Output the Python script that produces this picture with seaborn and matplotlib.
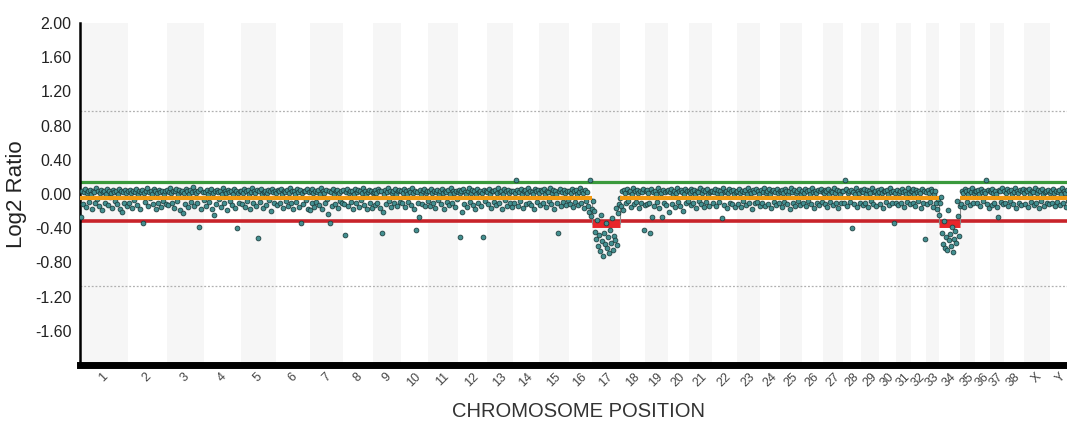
import numpy as np
import pandas as pd
import matplotlib
matplotlib.use('Agg')
import matplotlib.pyplot as plt
import seaborn as sns

# chromosome names and their drawn widths
chrom_names = [str(i) for i in range(1, 39)] + ['X', 'Y']
chrom_len = [47.5, 39, 37.5, 36.5, 35, 34.5, 32.5, 30.5, 27.5, 27.5,
             30, 28.5, 26, 26, 30, 23.5, 28, 25, 22.5, 21.5,
             22.5, 25, 23.5, 20, 21.5, 21.5, 19.5, 18.5, 17.5, 17.5,
             15, 14.5, 13.5, 21, 15, 15, 13.5, 20, 26.5, 20]

# probe log2 ratios per chromosome, in hundredths
chr1 = [-27, 4, -12, 2, 6, -15, 1, 3, -9, 5, 0, -17, 4, 2, -11, 7, -6, 3, -14, 1, 5, -19, 2, 4,
        -10, 0, 6, -13, 3, -3, 1, -16, 5, 2, -8, 4, -12, 0, 6, -18, 3, -21, 2, -10, 5, 1, -14]
chr2 = [3, -11, 5, 1, -16, 4, -7, 2, 6, -13, 0, 4, -18, 2, 5, -34, 1, -9, 3, 7, -14, 2, -5, 4,
        0, -12, 6, 3, -17, 1, -10, 5, 2, -15, 4, -8, 0, 3, -12]
chr3 = [5, -13, 2, 7, 1, -10, 4, -16, 3, 6, -8, 0, 5, -19, 2, 4, -22, 1, -12, 6, 3, -15, 0, 5,
        -9, 2, 8, -14, 4, 1, -11, 3, -38, 6, -17, 2, -7]
chr4 = [2, -14, 5, 0, -9, 4, 6, -17, 1, -24, 3, -12, 5, 2, -6, 4, -15, 0, 7, -11, 3, 1, -19, 5,
        2, -8, 4, -13, 0, 6, -16, 3, -40, 1, -10, 4]
chr5 = [4, -12, 1, 6, -15, 3, -8, 5, 0, -18, 2, 7, -11, 4, 1, -14, 5, -51, 3, -9, 6, 0, -16, 2,
        4, -13, 1, 5, -7, 3, -20, 6, 2, -10, 4]
chr6 = [1, -13, 5, 3, -10, 6, 0, -16, 4, 2, -8, 5, -14, 1, 7, -11, 3, -18, 4, 0, -9, 6, 2, -15,
        5, -34, 1, -12, 4, 3, -7, 6, -17, 2, -19]
chr7 = [3, -11, 6, 1, -15, 4, -9, 2, 5, -13, 0, 7, -18, 3, 1, -10, 5, -6, -23, 4, -34, 2, -14, 6,
        0, -12, 3, 5, -16, 1, -8, 4, -11]
chr8 = [5, -12, -48, 2, 6, -14, 1, 4, -9, 3, -17, 0, 6, -11, 2, 5, -15, 3, -7, 1, 7, -13, 4, 0,
        -18, 2, 5, -10, 3, -16, 1]
chr9 = [2, -13, 5, 1, -10, 6, 3, -16, 4, -45, -21, 0, 5, -12, 2, 7, -8, 3, -15, 1, 4, -11, 6, 0,
        -14, 3, 5, -9]
chr10 = [4, -11, 1, 6, -15, 3, 0, -9, 5, 2, -13, 7, 1, -17, 4, -42, 2, -10, -27, 5, 0, -12, 3, 6,
         -14, 1, 4, -8]
chr11 = [3, -14, 6, 1, -10, 4, -16, 2, 5, -7, 0, 3, -12, 6, 1, -18, 4, 2, -9, 5, -13, 0, 7, -11,
         3, 1, -15, 4, -6, 2]
chr12 = [5, -50, 1, 3, -21, 6, -12, 2, 0, -15, 4, 7, -9, 1, 5, -13, 3, -17, 0, 6, -10, 2, 4, -14,
         1, -50, 5, -8, 3]
chr13 = [2, -12, 6, 0, -16, 4, 3, -9, 5, -13, 1, 7, -11, 2, 4, -18, 0, 6, -7, 3, -14, 5, 1, -10,
         4, -15]
chr14 = [4, -11, 1, 17, 5, -14, 2, -8, 6, 0, -16, 3, 5, -12, 1, 7, -10, 4, -13, 2, 0, -17, 6, 3,
         -9, 5]
chr15 = [1, -13, 5, 3, -10, 6, 0, -15, 4, 2, -8, 7, -12, 1, 5, -17, 3, 0, -11, -46, 4, 6, -14, 2,
         -9, 5, 1, -13, 3, -7]
chr16 = [4, -12, 1, 6, -15, 3, -9, 5, 0, -13, 2, 7, -10, 4, 1, -16, 5, -8, 2, -14, -21, 17, -26, -18]
chr17 = [-8, -20, -44, -52, -30, -61, -48, -67, -25, -55, -72, -46, -58, -34, -63, -50, -69, -42,
         -57, -28, -65, -49, -54, -16, -60, -22, -12, -5]
chr18 = [-14, 3, -19, 5, 1, -11, 6, -8, 2, 4, -15, 0, 7, -12, 3, -9, 5, 1, -16, 4, -10, 2, 6, -42, -13]
chr19 = [3, -12, 5, 1, -10, -45, 6, -27, 2, -14, 4, 0, -9, 7, -16, 3, 1, -27, 5, -11, 2, -13, 4]
chr20 = [5, -21, 2, 6, -12, 0, 4, -15, 1, 7, -9, 3, -14, 5, 2, -20, 0, 6, -11, 3, -8, 4]
chr21 = [1, -13, 6, 3, -10, 5, 0, -16, 4, 2, -8, 7, -12, 1, 5, -15, 3, -9, 6, 0, -14, 2, 4]
chr22 = [4, -11, 2, 6, -14, 1, 5, -9, 3, 0, -28, 7, -13, 2, 4, -16, 1, 6, -10, 3, -12, 5, 0, -15, 2]
chr23 = [3, -12, 6, 1, -15, 4, -8, 2, 5, -13, 0, 7, -10, 3, 1, -17, 5, 2, -11, 6, -9, 4, 0, -14]
chr24 = [5, -10, 2, 7, -14, 1, 4, -12, 6, 0, -16, 3, 5, -9, 2, -13, 6, 1, -11, 4]
chr25 = [2, -15, 5, 1, -9, 6, 3, -12, 0, 4, -17, 7, 2, -10, 5, -14, 1, 3, -8, 6, -13, 0]
chr26 = [4, -11, 1, 6, -14, 3, -8, 5, 0, -12, 7, 2, -16, 4, 1, -10, 5, -13, 3, 6, -9, 2]
chr27 = [1, -12, 5, 3, -15, 6, 0, -9, 4, 2, -13, 7, 1, -11, 5, -16, 3, 0, -10, 4]
chr28 = [3, -11, 17, 6, -14, 1, 4, -9, 5, -40, 2, -12, 0, 7, -15, 3, 1, -10, 5]
chr29 = [4, -13, 2, 6, -10, 0, 5, -15, 3, 1, -8, 7, -12, 2, 4, -14, 0, 5]
chr30 = [2, -12, 6, 1, -16, 4, 3, -9, 5, 0, -13, 7, 2, -11, 4, -34, 1, -10]
chr31 = [5, -13, 1, 4, -10, 6, 2, -15, 3, 0, -9, 7, 1, -12, 4]
chr32 = [3, -11, 6, 0, -14, 5, 2, -8, 4, 1, -16, 6, -10, 3, -52]
chr33 = [2, -12, 5, 1, -9, 6, 3, -15, 0, 4, -11, -18, -6, -24]
chr34 = [-10, -3, -45, -58, -31, -63, -50, -66, -19, -54, -47, -61, -38, -68, -52, -43, -57, -8,
         -26, -49, -14]
chr35 = [-12, 4, 1, -15, 6, 3, -9, 0, 5, -13, 2, 7, -10, 1, 4]
chr36 = [3, -11, 5, 0, -14, 6, 2, -8, 4, 1, 17, -12, 5, -16, 3]
chr37 = [2, -13, 6, 1, -10, 4, 0, -15, -27, 5, 3, -9, 7, -12]
chr38 = [4, -11, 1, 6, -14, 3, -8, 5, 0, -12, 2, 7, -16, 4, 1, -10, 5, -13, 3, 6]
chrX = [1, -12, 5, 3, -15, 6, 0, -9, 4, 2, -13, 7, -11, 1, 5, -16, 3, -8, 6, 0, -14, 2, 4, -10,
        5, -12, 1]
chrY = [3, -11, 6, 1, -14, 4, -9, 2, 5, -13, 0, 7, -10, 3, 1, -15, 5, -8, 2, 6]

probe_vals = [chr1, chr2, chr3, chr4, chr5, chr6, chr7, chr8, chr9, chr10,
              chr11, chr12, chr13, chr14, chr15, chr16, chr17, chr18, chr19, chr20,
              chr21, chr22, chr23, chr24, chr25, chr26, chr27, chr28, chr29, chr30,
              chr31, chr32, chr33, chr34, chr35, chr36, chr37, chr38, chrX, chrY]

# thresholds and segment calls
gain_thr = 0.145
loss_thr = -0.31
baseline = -0.05
outer_lines = [0.97, -1.07]
loss_chroms = ['17', '34']
loss_level = -0.355
ytick_vals = [2.0, 1.6, 1.2, 0.8, 0.4, 0.0, -0.4, -0.8, -1.2, -1.6]

# build table: probes evenly spread inside their chromosome
starts = np.concatenate([[0], np.cumsum(chrom_len)[:-1]])
ends = starts + np.array(chrom_len)
rows = []
for name, s, w, vals in zip(chrom_names, starts, chrom_len, probe_vals):
    n = len(vals)
    for k, v in enumerate(vals):
        rows.append((name, s + (k + 0.5) * w / n, v / 100.0))
df = pd.DataFrame(rows, columns=['chrom', 'pos', 'log2'])

sns.set_style('white')
plt.rcParams['font.family'] = ['Liberation Sans', 'DejaVu Sans']

fig = plt.figure(figsize=(10.67, 4.24), dpi=100)
ax = fig.add_axes([0.075, 0.139, 0.9335, 0.8066])

# alternating chromosome shading
for i, (s, e) in enumerate(zip(starts, ends)):
    if i % 2 == 0:
        ax.axvspan(s, e, color='#f6f6f6', lw=0, zorder=0)

for yv in outer_lines:
    ax.axhline(yv, color='#b0b0b0', lw=0.9, ls=(0, (1.5, 1.5)), zorder=1)

sns.scatterplot(data=df, x='pos', y='log2', ax=ax, s=12, color='#438f90',
                edgecolor='#1b3a3a', linewidth=0.55, legend=False, zorder=3)

ax.axhline(gain_thr, color='#3a9a3c', lw=2.3, zorder=2)
ax.axhline(loss_thr, color='#c8232a', lw=2.6, zorder=2)

# baseline segments (orange) with gaps at the loss segments
idx = {n: i for i, n in enumerate(chrom_names)}
cut = [0.0]
for c in loss_chroms:
    cut += [starts[idx[c]], ends[idx[c]]]
cut.append(ends[-1])
for a, b in zip(cut[0::2], cut[1::2]):
    ax.hlines(baseline, a, b, color='#f39a12', lw=3.0, zorder=4)
for c in loss_chroms:
    s, e = starts[idx[c]], ends[idx[c]]
    ax.hlines(loss_level, s, e, color='#e8262a', lw=5.0, zorder=2.5)
    ax.vlines([s, e], loss_level, baseline, color='#8a8a8a', lw=0.8, zorder=2.5)

ax.set_xlim(0, 996)
ax.set_ylim(-2.0, 2.0)
ax.set_yticks(ytick_vals)
ax.set_yticklabels([f'{v:.2f}' for v in ytick_vals], fontsize=11.5, color='#222222')
ax.set_xticks((starts + ends) / 2)
ax.set_xticklabels(chrom_names, rotation=45, ha='center', va='top', fontsize=9, color='#444444')
ax.tick_params(axis='both', length=0)
ax.tick_params(axis='x', pad=4)
ax.tick_params(axis='y', pad=6)

ax.set_ylabel('Log2 Ratio', fontsize=16, color='#222222', labelpad=6)
ax.set_xlabel('CHROMOSOME POSITION', fontsize=14.5, color='#333333', labelpad=9)

sns.despine(ax=ax, top=True, right=True)
ax.spines['left'].set_linewidth(1.8)
ax.spines['left'].set_color('black')
ax.spines['bottom'].set_linewidth(5)
ax.spines['bottom'].set_color('black')

fig.savefig('out.png', dpi=100)
